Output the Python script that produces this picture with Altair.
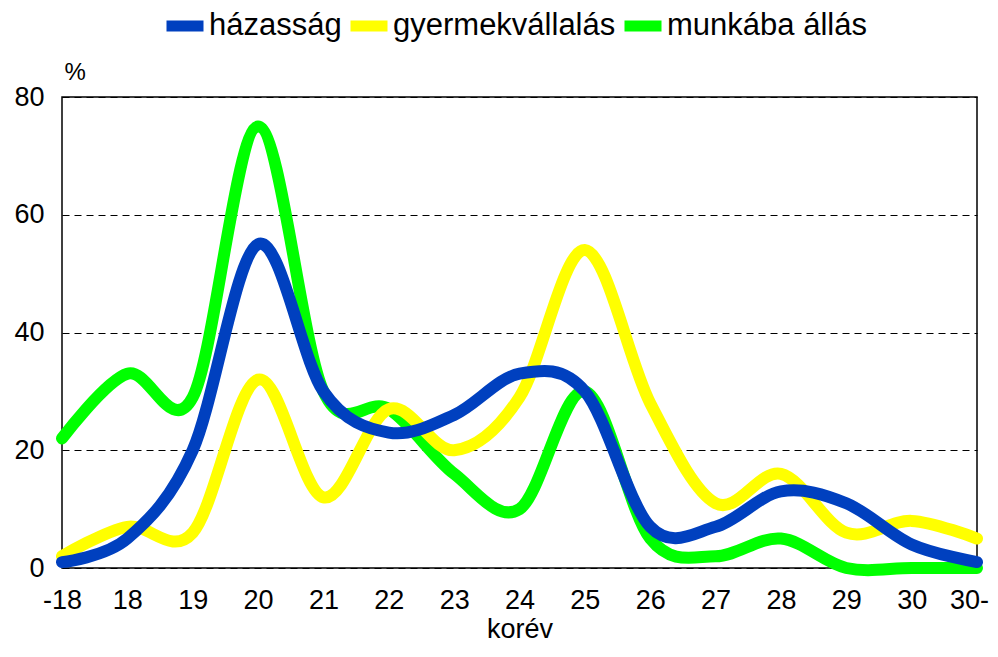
import altair as alt
import pandas as pd

ages = ["-18", "18", "19", "20", "21", "22", "23", "24", "25", "26", "27", "28", "29", "30", "30-"]
hazassag = [1, 5, 20, 55, 30, 23, 26, 33, 30, 7, 7, 13, 11, 4, 1]
gyermekvallalas = [2, 7, 6, 32, 12, 27, 20, 29, 54, 28, 11, 16, 6, 8, 5]
munkaba_allas = [22, 33, 29, 75, 30, 27, 16, 10, 30, 5, 2, 5, 0, 0, 0]

series_names = ["házasság", "gyermekvállalás", "munkába állás"]
series_colors = ["#0040BF", "#FFFF00", "#00FF00"]
series_values = [hazassag, gyermekvallalas, munkaba_allas]
legend_x = [99, 283, 557]

rows = []
for name, vals in zip(series_names, series_values):
    for a, v in zip(ages, vals):
        rows.append({"korév": a, "érték": v, "sorozat": name})
df = pd.DataFrame(rows)

FONT = "Liberation Sans"

x = alt.X(
    "korév:O",
    sort=ages,
    scale=alt.Scale(type="point", padding=0),
    axis=alt.Axis(
        title="korév",
        titleFont=FONT,
        titleFontSize=27,
        titleFontWeight="normal",
        titleColor="black",
        titlePadding=3,
        labelAngle=0,
        labelFont=FONT,
        labelFontSize=27,
        labelColor="black",
        labelPadding=19,
        labelOverlap=False,
        labelOffset={"condition": {"test": "datum.value === '30-'", "value": -8}, "value": 0},
        ticks=False,
        domain=False,
        grid=False,
    ),
)

y = alt.Y(
    "érték:Q",
    scale=alt.Scale(domain=[0, 80], nice=False, zero=True),
    axis=alt.Axis(
        values=[0, 20, 40, 60, 80],
        title="%",
        titleAngle=0,
        titleAlign="left",
        titleBaseline="bottom",
        titleX=2,
        titleY=-13,
        titleFont=FONT,
        titleFontSize=24,
        titleFontWeight="normal",
        titleColor="black",
        labelFont=FONT,
        labelFontSize=27,
        labelColor="black",
        labelPadding=18,
        ticks=False,
        domain=False,
        grid=True,
        gridColor="black",
        gridDash=[7, 5],
        gridWidth=1,
    ),
)


def line(i):
    name = series_names[i]
    color = alt.Color(
        "sorozat:N",
        scale=alt.Scale(domain=[name], range=[series_colors[i]]),
        legend=alt.Legend(
            title=None,
            orient="none",
            direction="horizontal",
            legendX=legend_x[i],
            legendY=-95,
            symbolType="stroke",
            symbolSize=1369,
            symbolStrokeWidth=11,
            labelFontSize=31,
            labelFont=FONT,
            labelColor="black",
            labelOffset=0,
            labelLimit=0,
        ),
    )
    return (
        alt.Chart(df)
        .transform_filter(alt.datum["sorozat"] == name)
        .mark_line(interpolate="cardinal", strokeWidth=12, strokeCap="round", strokeJoin="round")
        .encode(x=x, y=y, color=color)
    )


chart = (
    alt.layer(line(2), line(1), line(0))
    .resolve_scale(color="independent")
    .properties(
        width=915,
        height=471,
        autosize=alt.AutoSizeParams(type="none"),
        padding={"left": 54, "top": 89, "right": 13, "bottom": 86},
        background="white",
    )
    .configure_view(stroke="black", strokeWidth=1.5)
)

chart.save("out.html", embed_options={"renderer": "svg", "actions": False})
